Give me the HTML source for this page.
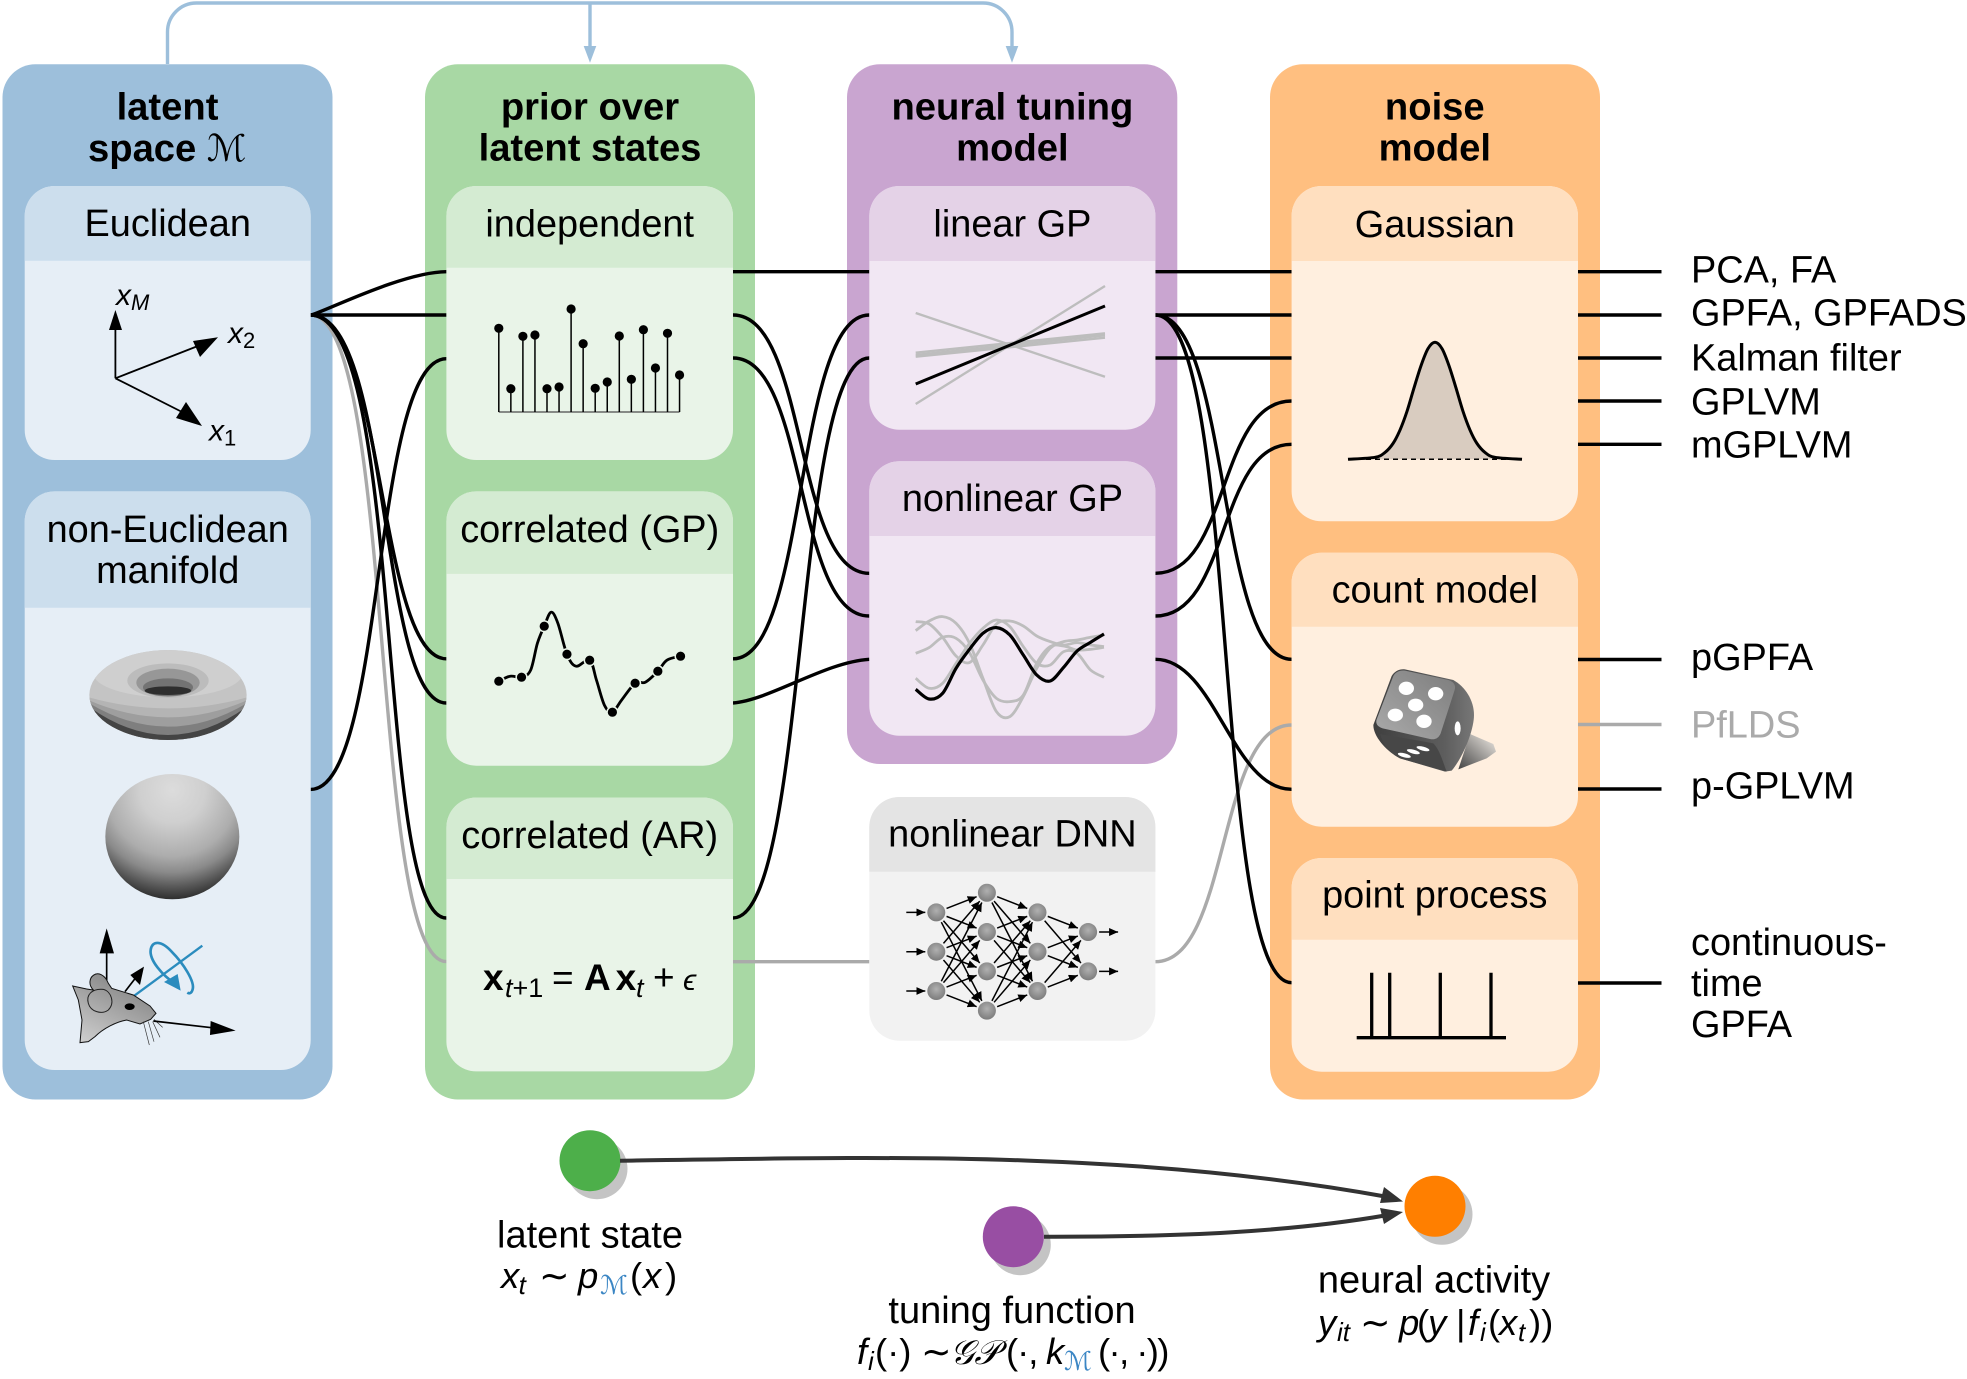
<!DOCTYPE html>
<html lang="en">
<head>
<meta charset="utf-8">
<title>Latent variable model components</title>
<style>
html,body{margin:0;padding:0;background:#fff;width:1967px;height:1379px;overflow:hidden}
svg{display:block}
text{font-family:"Liberation Sans","DejaVu Sans",sans-serif;fill:#000}
.h{font-size:37.9px;text-anchor:middle}
.b{font-size:38.2px;font-weight:bold;text-anchor:middle}
.r{font-size:37.9px}
.m{font-size:36.5px}
.i{font-style:italic}
.s{font-size:26px;font-style:italic}
.lk{fill:none;stroke:#000;stroke-width:3.4}
.lg{fill:none;stroke:#aaa;stroke-width:3.4}
.t{fill:none;stroke:#9dbfdb;stroke-width:3.4}
</style>
</head>
<body>
<svg id="fig" xmlns="http://www.w3.org/2000/svg" width="1967" height="1379" viewBox="0 0 1967 1379">
<defs>
<marker id="nnArrow" markerUnits="userSpaceOnUse" markerWidth="10" markerHeight="8" refX="9" refY="4" orient="auto"><path d="M0,0 L9,4 L0,8 Z" fill="#000"/></marker>
<radialGradient id="nodeGrad" cx="50%" cy="40%" r="60%"><stop offset="0" stop-color="#b0b0b0"/><stop offset="1" stop-color="#7c7c7c"/></radialGradient>
<radialGradient id="sphereGrad" gradientUnits="userSpaceOnUse" cx="277" cy="450" r="330"><stop offset="0" stop-color="#dcdcdc"/><stop offset=".3" stop-color="#cfcfcf"/><stop offset=".6" stop-color="#adadad"/><stop offset=".75" stop-color="#8a8a8a"/><stop offset=".88" stop-color="#585858"/><stop offset="1" stop-color="#2c2c2c"/></radialGradient>
<linearGradient id="mouseGrad" x1="0.7" y1="0" x2="0.1" y2="1"><stop offset="0" stop-color="#808080"/><stop offset="1" stop-color="#cfcfcf"/></linearGradient>
<linearGradient id="diceFace" x1="0" y1="1" x2="1" y2="0"><stop offset="0" stop-color="#aaa"/><stop offset="1" stop-color="#7d7d7d"/></linearGradient>
<linearGradient id="diceSide" x1="0" y1="0" x2="1" y2="0"><stop offset="0" stop-color="#3f3f3f"/><stop offset=".7" stop-color="#5d5d5d"/><stop offset="1" stop-color="#777"/></linearGradient>
<linearGradient id="diceShadow" x1="0" y1="1" x2="1" y2="0"><stop offset="0" stop-color="#444"/><stop offset="1" stop-color="#f3eee8"/></linearGradient>
<clipPath id="torusClip"><ellipse cx="264" cy="165" rx="236" ry="135"/></clipPath>
</defs>

<!-- top feedback connector -->
<path class="t" d="M167.5,64 V32 A29,29 0 0 1 196.5,3 H983 A29,29 0 0 1 1012,32 V50"/>
<path class="t" d="M590,3 V50"/>
<polygon points="583.7,46 596.3,46 590,62.7" fill="#9dbfdb"/>
<polygon points="1005.7,46 1018.3,46 1012,62.7" fill="#9dbfdb"/>

<!-- column panels -->
<rect x="2.5" y="64.3" width="330" height="1035.2" rx="33" fill="#9dbfdb"/>
<rect x="425" y="64.3" width="330" height="1035.2" rx="33" fill="#a8d8a4"/>
<rect x="847" y="64.3" width="330.3" height="699.7" rx="33" fill="#c9a5d0"/>
<rect x="1270" y="64.3" width="330" height="1035.2" rx="33" fill="#ffbf80"/>

<!-- column titles -->
<text class="b" x="167.5" y="119.5">latent</text>
<text class="b" x="88" y="161" style="text-anchor:start">space <tspan font-family="'DejaVu Serif','DejaVu Sans',serif" font-weight="normal" font-style="italic" font-size="37">ℳ</tspan></text>
<text class="b" x="590" y="119.3">prior over</text>
<text class="b" x="590" y="160.7">latent states</text>
<text class="b" x="1012.4" y="119.3">neural tuning</text>
<text class="b" x="1012.4" y="160.7">model</text>
<text class="b" x="1434.8" y="119.3">noise</text>
<text class="b" x="1434.8" y="160.7">model</text>

<!-- connections -->
<g>
<path class="lg" d="M310.7,315 C395,315 370,961.6 446.4,961.6"/>
<path class="lg" d="M733,961.7 H869.3"/>
<path class="lg" d="M1155.4,961.7 C1230,961.7 1217,725 1291.6,725"/>
<path class="lk" d="M310.7,315 C322,313 402,272 446.4,271.7"/>
<path class="lk" d="M310.7,315 H446.4"/>
<path class="lk" d="M310.7,315 C385,315 378,658.8 446.4,658.8"/>
<path class="lk" d="M310.7,315 C392,315 378,703 446.4,703"/>
<path class="lk" d="M310.7,315 C405,315 375,918 446.4,918"/>
<path class="lk" d="M310.7,789.4 C385.7,789.4 371.4,358.7 446.4,358.7"/>
<path class="lk" d="M733,271.7 H869.3"/>
<path class="lk" d="M733,315 C808,315 794,573.3 869.3,573.3"/>
<path class="lk" d="M733,358 C808,358 794,616 869.3,616"/>
<path class="lk" d="M733,658.8 C808,658.8 794,315 869.3,315"/>
<path class="lk" d="M733,918 C808,918 794,358 869.3,358"/>
<path class="lk" d="M733,703 C770,700 825,662 869.3,659.3"/>
<path class="lk" d="M1155.4,271.7 H1291.6"/>
<path class="lk" d="M1155.4,315 H1291.6"/>
<path class="lk" d="M1155.4,358 H1291.6"/>
<path class="lk" d="M1155.4,315 C1230,315 1217,659.3 1291.6,659.3"/>
<path class="lk" d="M1155.4,315 C1240,315 1212,982.7 1291.6,982.7"/>
<path class="lk" d="M1155.4,573.3 C1230,573.3 1217,401 1291.6,401"/>
<path class="lk" d="M1155.4,616 C1230,616 1217,444.3 1291.6,444.3"/>
<path class="lk" d="M1155.4,659.3 C1215,659.3 1232,789.3 1291.6,789.3"/>
<path class="lk" d="M1578,271.7 H1661.5"/>
<path class="lk" d="M1578,315 H1661.5"/>
<path class="lk" d="M1578,358 H1661.5"/>
<path class="lk" d="M1578,401 H1661.5"/>
<path class="lk" d="M1578,444.3 H1661.5"/>
<path class="lk" d="M1578,659.5 H1661.5"/>
<path class="lg" d="M1578,724.5 H1661.5"/>
<path class="lk" d="M1578,789 H1661.5"/>
<path class="lk" d="M1578,983 H1661.5"/>
</g>

<!-- cards -->
<g>
<rect x="24.7" y="186" width="286" height="274" rx="30" fill="#e6eef6"/>
<path d="M24.7,260.7 V216 A30,30 0 0 1 54.7,186 H280.7 A30,30 0 0 1 310.7,216 V260.7 Z" fill="#ccdeed"/>
<text class="h" x="167.7" y="236">Euclidean</text>
</g>
<g>
<rect x="24.7" y="491.4" width="286" height="578.6" rx="30" fill="#e6eef6"/>
<path d="M24.7,607.8 V521.4 A30,30 0 0 1 54.7,491.4 H280.7 A30,30 0 0 1 310.7,521.4 V607.8 Z" fill="#ccdeed"/>
<text class="h" x="167.7" y="542">non-Euclidean</text>
<text class="h" x="167.7" y="583">manifold</text>
</g>
<g>
<rect x="446.4" y="186" width="286.6" height="274" rx="30" fill="#e9f4e8"/>
<path d="M446.4,267.7 V216 A30,30 0 0 1 476.4,186 H703 A30,30 0 0 1 733,216 V267.7 Z" fill="#d4ebd2"/>
<text class="h" x="589.7" y="236.7">independent</text>
</g>
<g>
<rect x="446.4" y="491.4" width="286.6" height="274.3" rx="30" fill="#e9f4e8"/>
<path d="M446.4,573.9 V521.4 A30,30 0 0 1 476.4,491.4 H703 A30,30 0 0 1 733,521.4 V573.9 Z" fill="#d4ebd2"/>
<text class="h" x="589.7" y="542">correlated (GP)</text>
</g>
<g>
<rect x="446.4" y="797.5" width="286.6" height="273.9" rx="30" fill="#e9f4e8"/>
<path d="M446.4,879 V827.5 A30,30 0 0 1 476.4,797.5 H703 A30,30 0 0 1 733,827.5 V879 Z" fill="#d4ebd2"/>
<text class="h" x="589.7" y="848">correlated (AR)</text>
</g>
<g>
<rect x="869.3" y="186" width="286.1" height="243.7" rx="30" fill="#f1e7f3"/>
<path d="M869.3,261 V216 A30,30 0 0 1 899.3,186 H1125.4 A30,30 0 0 1 1155.4,216 V261 Z" fill="#e4d2e7"/>
<text class="h" x="1012.4" y="236.7">linear GP</text>
</g>
<g>
<rect x="869.3" y="461.3" width="286.1" height="274.4" rx="30" fill="#f1e7f3"/>
<path d="M869.3,536 V491.3 A30,30 0 0 1 899.3,461.3 H1125.4 A30,30 0 0 1 1155.4,491.3 V536 Z" fill="#e4d2e7"/>
<text class="h" x="1012.4" y="511">nonlinear GP</text>
</g>
<g>
<rect x="869.3" y="797" width="286.1" height="243.7" rx="30" fill="#f2f2f2"/>
<path d="M869.3,871.7 V827 A30,30 0 0 1 899.3,797 H1125.4 A30,30 0 0 1 1155.4,827 V871.7 Z" fill="#e4e4e4"/>
<text class="h" x="1012.4" y="846.7">nonlinear DNN</text>
</g>
<g>
<rect x="1291.6" y="186" width="286.4" height="335.3" rx="30" fill="#ffefdf"/>
<path d="M1291.6,261 V216 A30,30 0 0 1 1321.6,186 H1548 A30,30 0 0 1 1578,216 V261 Z" fill="#ffdfbf"/>
<text class="h" x="1434.8" y="237">Gaussian</text>
</g>
<g>
<rect x="1291.6" y="552.7" width="286.4" height="274" rx="30" fill="#ffefdf"/>
<path d="M1291.6,626.7 V582.7 A30,30 0 0 1 1321.6,552.7 H1548 A30,30 0 0 1 1578,582.7 V626.7 Z" fill="#ffdfbf"/>
<text class="h" x="1434.8" y="602.7">count model</text>
</g>
<g>
<rect x="1291.6" y="858" width="286.4" height="213.7" rx="30" fill="#ffefdf"/>
<path d="M1291.6,939.7 V888 A30,30 0 0 1 1321.6,858 H1548 A30,30 0 0 1 1578,888 V939.7 Z" fill="#ffdfbf"/>
<text class="h" x="1434.8" y="907.7">point process</text>
</g>

<!-- Euclidean axes -->
<g stroke="#000" stroke-width="1.8">
<line x1="115.4" y1="378.3" x2="115.4" y2="325"/>
<line x1="115.4" y1="378.3" x2="203" y2="344"/>
<line x1="115.4" y1="378.3" x2="188" y2="415"/>
<polygon stroke="none" fill="#000" points="115.4,310 109,330 122,330"/>
<polygon stroke="none" fill="#000" points="218,337.3 193,341 200,357"/>
<polygon stroke="none" fill="#000" points="202,426 186,402 176,418"/>
</g>
<text class="i" x="116" y="305" font-size="30">x<tspan font-size="22" dy="5">M</tspan></text>
<text class="i" x="228" y="343" font-size="30">x<tspan font-size="22" dy="5" font-style="normal">2</tspan></text>
<text class="i" x="209" y="440.7" font-size="30">x<tspan font-size="22" dy="5" font-style="normal">1</tspan></text>

<!-- Torus and sphere -->
<g transform="translate(80,640) scale(.3333)">
<ellipse cx="264" cy="165" rx="236" ry="135" fill="#c4c4c4"/>
<g clip-path="url(#torusClip)">
<ellipse cx="264" cy="100" rx="224" ry="72" fill="#cfcfcf"/>
<path d="M20,170 Q264,240 508,170 V310 H20 Z" fill="#b4b4b4"/>
<path d="M20,178 Q264,286 508,178 V310 H20 Z" fill="#9e9e9e"/>
<path d="M20,185 Q264,335 508,185 V310 H20 Z" fill="#7f7f7f"/>
<path d="M20,195 Q264,375 508,195 V310 H20 Z" fill="#444"/>
</g>
<ellipse cx="264" cy="122" rx="122" ry="52" fill="#bcbcbc"/>
<ellipse cx="264" cy="128" rx="95" ry="42" fill="#979797"/>
<ellipse cx="264" cy="142" rx="75" ry="27" fill="#737373"/>
<ellipse cx="264" cy="152" rx="70" ry="13" fill="#2e2e2e"/>
</g>
<g transform="translate(80,640) scale(.3333)">
<ellipse cx="277" cy="590" rx="201" ry="188" fill="url(#sphereGrad)"/>
</g>

<!-- Mouse -->
<g transform="translate(60,920) scale(.3333)">
<line x1="140" y1="185" x2="140" y2="95" stroke="#000" stroke-width="5"/>
<polygon fill="#000" points="140,25 119,100 162,100"/>
<line x1="195" y1="215" x2="228" y2="172" stroke="#000" stroke-width="5"/>
<polygon fill="#000" points="252,140 211,165 240,195"/>
<path d="M222,228 L427,77" fill="none" stroke="#2b8cbe" stroke-width="7"/>
<path d="M350,195 C305,165 268,120 272,90 C276,60 305,62 335,95 C370,130 405,185 398,208 C395,220 388,222 382,218" fill="none" stroke="#2b8cbe" stroke-width="8"/>
<polygon fill="#2b8cbe" points="362,212 312,186 353,162"/>
<path d="M38,198 L80,207 L100,210 C85,195 88,175 100,166 C115,155 135,165 145,190 L155,205 L220,225 L270,258 L288,280 L272,298 L240,312 L200,300 C170,305 130,325 105,350 L85,365 L60,368 L66,300 L55,240 Z" fill="url(#mouseGrad)" stroke="#111" stroke-width="3"/>
<path d="M130,208 C95,205 78,225 85,250 C92,275 125,285 145,270 C165,250 155,215 130,208 Z" fill="none" stroke="#222" stroke-width="3"/>
<ellipse cx="209" cy="260" rx="15" ry="10" fill="#000"/>
<path d="M250,305 L268,375 M265,305 L282,365 M278,305 L300,352 M282,298 L308,322" fill="none" stroke="#333" stroke-width="2"/>
<line x1="280" y1="303" x2="455" y2="323" stroke="#000" stroke-width="5"/>
<polygon fill="#000" points="527,332 452,303 450,345"/>
</g>

<!-- Dice -->
<g transform="translate(1350,650) scale(.3333)">
<path d="M360,252 L430,282 L438,305 L410,325 L325,358 Z" fill="url(#diceShadow)"/>
<path d="M165,58 L310,90 C345,110 372,150 372,195 C372,240 340,320 305,362 L285,365 L150,325 C110,305 70,260 70,225 L125,78 C135,62 150,56 165,58 Z" fill="url(#diceSide)"/>
<path d="M90,252 C120,258 200,270 250,280 C270,300 280,340 290,365 L150,325 C120,310 100,285 90,252 Z" fill="#474747"/>
<path d="M165,62 L295,90 C312,96 318,106 314,120 L272,250 C266,264 256,270 240,267 L98,235 C82,230 76,220 80,208 L130,78 C136,66 150,60 165,62 Z" fill="url(#diceFace)"/>
<g fill="#fff">
<ellipse cx="169" cy="115" rx="23" ry="20"/>
<ellipse cx="257" cy="131" rx="23" ry="20"/>
<ellipse cx="197" cy="165" rx="23" ry="19"/>
<ellipse cx="136" cy="195" rx="23" ry="19"/>
<ellipse cx="222" cy="214" rx="23" ry="20"/>
<ellipse cx="323" cy="235" rx="9" ry="21"/>
<ellipse cx="163" cy="316" rx="20" ry="6" transform="rotate(15 163 316)"/>
<ellipse cx="190" cy="305" rx="20" ry="6" transform="rotate(15 190 305)"/>
<ellipse cx="219" cy="296" rx="20" ry="6" transform="rotate(15 219 296)"/>
</g>
</g>

<!-- AR equation -->
<g font-size="37">
<text x="483" y="990" font-weight="bold" font-size="37">x</text>
<text x="505" y="997" font-size="27"><tspan font-style="italic">t</tspan>+1</text>
<text x="552" y="990" font-size="37">=</text>
<text x="584" y="990" font-weight="bold" font-size="37">A</text>
<text x="615.6" y="990" font-weight="bold" font-size="37">x</text>
<text x="636" y="997" font-size="27" font-style="italic">t</text>
<text x="653" y="990" font-size="37">+</text>
<text x="683" y="990" font-size="30" font-style="italic">ϵ</text>
</g>

<!-- JS-drawn plots -->
<g id="stemPlot"></g>
<g id="gpPlot"></g>
<g id="linearPlot"></g>
<g id="nonlinearPlot"></g>
<g id="nnPlot"></g>
<g id="gaussPlot"></g>
<g id="spikePlot"></g>

<!-- Method labels -->
<text class="r" x="1691" y="282.7">PCA, FA</text>
<text class="r" x="1691" y="325.7">GPFA, GPFADS</text>
<text class="r" x="1691" y="370.7">Kalman filter</text>
<text class="r" x="1691" y="414.5">GPLVM</text>
<text class="r" x="1691" y="457.7">mGPLVM</text>
<text class="r" x="1691" y="670">pGPFA</text>
<text class="r" x="1691" y="737.7" style="fill:#aaa">PfLDS</text>
<text class="r" x="1691" y="798.3">p-GPLVM</text>
<text class="r" x="1691" y="955">continuous-</text>
<text class="r" x="1691" y="996">time</text>
<text class="r" x="1691" y="1037">GPFA</text>

<!-- Generative graph -->
<ellipse cx="597" cy="1168.7" rx="30.5" ry="30.5" fill="#c4c4c4"/>
<ellipse cx="1020.3" cy="1244.7" rx="30.5" ry="30.5" fill="#c4c4c4"/>
<ellipse cx="1442" cy="1214.3" rx="30.5" ry="30.5" fill="#c4c4c4"/>
<circle cx="590" cy="1160.7" r="30.5" fill="#4daf4a"/>
<circle cx="1013.3" cy="1236.7" r="30.5" fill="#984ea3"/>
<circle cx="1435" cy="1206.3" r="30.5" fill="#ff7f00"/>
<path d="M620,1160.7 C880,1157 1130,1150 1388,1197" fill="none" stroke="#333" stroke-width="4"/>
<polygon points="1403,1201.5 1384,1187 1380,1203" fill="#333"/>
<path d="M1044,1236.7 C1180,1237 1290,1232 1388,1215" fill="none" stroke="#333" stroke-width="4"/>
<polygon points="1403,1212 1380,1208 1384,1224" fill="#333"/>

<text class="h" x="590" y="1247.3" style="font-size:38px">latent state</text>
<g>
<text class="m i" x="501" y="1288">x</text><text class="s" x="518.6" y="1294">t</text>
<text class="m" x="539" y="1288">∼</text>
<text class="m i" x="578" y="1288">p</text>
<text x="600" y="1294" font-size="26" font-style="italic" style="fill:#3b86c4;font-family:'DejaVu Serif','DejaVu Sans',serif">ℳ</text>
<text class="m" x="630" y="1288">(</text><text class="m i" x="643" y="1288">x</text><text class="m" x="665" y="1288">)</text>
</g>
<text class="h" x="1012" y="1323" style="font-size:38px">tuning function</text>
<g>
<text class="m i" x="857" y="1364">f</text><text class="s" x="868" y="1370">i</text>
<text class="m" x="875" y="1364">(·)</text>
<text class="m" x="921" y="1364">∼</text>
<text x="950" y="1364" font-size="34" font-style="italic" style="font-family:'Liberation Serif',serif">𝒢𝒫</text>
<text class="m" x="1006" y="1364" style="letter-spacing:-1px">(·,</text>
<text class="m i" x="1046" y="1364">k</text>
<text x="1064" y="1370" font-size="26" font-style="italic" style="fill:#3b86c4;font-family:'DejaVu Serif','DejaVu Sans',serif">ℳ</text>
<text class="m" x="1098" y="1364" style="letter-spacing:-1.6px">(·, ·))</text>
</g>
<text class="h" x="1434" y="1292.7" style="font-size:38px">neural activity</text>
<g>
<text class="m i" x="1318" y="1335">y</text><text class="s" x="1337" y="1341">it</text>
<text class="m" x="1360" y="1335">∼</text>
<text class="m i" x="1399" y="1335">p</text>
<text class="m" x="1417" y="1335">(</text>
<text class="m i" x="1428" y="1335">y</text>
<text class="m" x="1456" y="1335">|</text>
<text class="m i" x="1468" y="1335">f</text><text class="s" x="1480" y="1341">i</text>
<text class="m" x="1488" y="1335">(</text>
<text class="m i" x="1499" y="1335">x</text><text class="s" x="1518" y="1341">t</text>
<text class="m" x="1529" y="1335">))</text>
</g>
</svg>

<script>
const stemValues = [83.7, 23.3, 75.7, 77, 23.3, 25, 103, 68.3, 23.7, 30, 76, 32.7, 82.3, 44, 78.7, 37];
const gpPointTimes = [0, 2, 4, 6, 8, 10, 12, 14, 16];
const gpPointValues = [31, 35, 86, 58, 52, 0, 29, 41, 56];
const gpCurveTimes = [0, 1, 2, 2.8, 3.4, 4, 4.6, 5.2, 6, 6.8, 8, 8.6, 9.3, 10, 10.8, 12, 12.9, 14, 14.8, 16];
const gpCurveValues = [31, 36, 35, 42, 69, 86, 100, 89, 58, 46, 52, 32, 7, 0, 12, 29, 30, 41, 52, 56];
const linearStart = [-41, -61, 30, -9.7, -12, -13.7];
const linearEnd = [37, 57, -33.7, 9.7, 7.7, 5.3];
const linearIsHighlighted = [true, false, false, false, false, false];
const nonlinearHighlight = [34, 24.3, 30, 55, 74, 90, 95.7, 88.3, 68.3, 48.3, 42.3, 56, 72.3, 81, 89.3];
const nonlinearGrayA = [92.7, 102.3, 106.7, 100, 80, 45, 11.7, 6.7, 26.7, 55, 75, 81.7, 83.3, 86, 88.3];
const nonlinearGrayB = [101.7, 99.3, 86, 67.3, 60.7, 78.3, 99.3, 102.3, 97.3, 87.3, 81.7, 78.3, 80.7, 78.3, 76.7];
const nonlinearGrayC = [70, 75.7, 86, 85, 70.7, 43.3, 25, 21.7, 28.3, 60, 76.7, 77.3, 73.3, 74, 76];
const nonlinearGrayD = [45, 35, 40, 60, 80, 95, 103.3, 96.7, 76.7, 60, 58.3, 71.7, 70, 53.3, 46];
const networkLayerSizes = [3, 4, 3, 2];
const gaussianOffsets = [-87, -60, -50, -42, -35, -28, -21, -14, -7, 0, 7, 14, 21, 28, 35, 42, 50, 60, 87];
const gaussianDensity = [0, 0.017, 0.059, 0.135, 0.25, 0.41, 0.61, 0.8, 0.946, 1, 0.946, 0.8, 0.61, 0.41, 0.25, 0.135, 0.059, 0.017, 0];
const spikeTimes = [15, 33, 83.6, 134.3];

const NS = 'http://www.w3.org/2000/svg';
function make(parent, tag, props) {
  const node = document.createElementNS(NS, tag);
  for (const k in props) node.setAttribute(k, props[k]);
  parent.appendChild(node);
  return node;
}
function smoothPath(pts) {
  let d = 'M' + pts[0][0] + ',' + pts[0][1];
  for (let i = 0; i < pts.length - 1; i++) {
    const p0 = pts[Math.max(i - 1, 0)], p1 = pts[i], p2 = pts[i + 1], p3 = pts[Math.min(i + 2, pts.length - 1)];
    const c1x = p1[0] + (p2[0] - p0[0]) / 6, c1y = p1[1] + (p2[1] - p0[1]) / 6;
    const c2x = p2[0] - (p3[0] - p1[0]) / 6, c2y = p2[1] - (p3[1] - p1[1]) / 6;
    d += ' C' + c1x.toFixed(2) + ',' + c1y.toFixed(2) + ' ' + c2x.toFixed(2) + ',' + c2y.toFixed(2) + ' ' + p2[0].toFixed(2) + ',' + p2[1].toFixed(2);
  }
  return d;
}

/* independent stems */
const stemX = i => 498.8 + i * 12.05;
const stemY = v => 412 - v;
const stemGroup = document.getElementById('stemPlot');
const stemBase = make(stemGroup, 'line', {x1: stemX(0), x2: stemX(stemValues.length - 1), y1: stemY(0), y2: stemY(0), stroke: '#666', 'stroke-width': 1.6});


stemValues.forEach((v, i) => {
  const stem = make(stemGroup, 'line', {x1: stemX(i), x2: stemX(i), y1: stemY(0), y2: stemY(v), stroke: '#000', 'stroke-width': 1.5});
  
  
  const dot = make(stemGroup, 'circle', {cx: stemX(i), cy: stemY(v), r: 4.6, fill: '#000'});
  
  
});

/* correlated GP */
const gpX = t => 498.8 + t * 11.36;
const gpY = v => 712.2 - v;
const gpGroup = document.getElementById('gpPlot');
const gpLine = make(gpGroup, 'path', {d: smoothPath(gpCurveTimes.map((t, i) => [gpX(t), gpY(gpCurveValues[i])])), fill: 'none', stroke: '#000', 'stroke-width': 2.8});


gpPointTimes.forEach((t, i) => {
  const pt = make(gpGroup, 'circle', {cx: gpX(t), cy: gpY(gpPointValues[i]), r: 4.6, fill: '#000', stroke: '#e9f4e8', 'stroke-width': 3, 'paint-order': 'stroke'});
  
  
});

/* linear GP */
const linX0 = 915.7, linX1 = 1105;
const linY = v => 343 - v;
const linearGroup = document.getElementById('linearPlot');
linearStart.map((s, i) => i).sort((a, b) => linearIsHighlighted[a] - linearIsHighlighted[b]).forEach(i => {
  const hi = linearIsHighlighted[i];
  const ln = make(linearGroup, 'line', {x1: linX0, x2: linX1, y1: linY(linearStart[i]), y2: linY(linearEnd[i]), stroke: hi ? '#000' : '#bdbdbd', 'stroke-width': hi ? 3 : 2.4});
  
  
});

/* nonlinear GP */
const nlX = i => 915.7 + i * 13.45;
const nlY = v => 723.3 - v;
const nonlinearGroup = document.getElementById('nonlinearPlot');
[nonlinearGrayA, nonlinearGrayB, nonlinearGrayC, nonlinearGrayD].forEach(series => {
  const curve = make(nonlinearGroup, 'path', {d: smoothPath(series.map((v, i) => [nlX(i), nlY(v)])), fill: 'none', stroke: '#bdbdbd', 'stroke-width': 2.8});
  
  
});
const nlMain = make(nonlinearGroup, 'path', {d: smoothPath(nonlinearHighlight.map((v, i) => [nlX(i), nlY(v)])), fill: 'none', stroke: '#000', 'stroke-width': 3.2});



/* neural network */
const nnX = layer => 936.3 + layer * 50.6;
const nnY = (i, n) => 951.7 + (i - (n - 1) / 2) * 39.3;
const nnGroup = document.getElementById('nnPlot');
function nnArrow(x1, y1, x2, y2, w) {
  const a = make(nnGroup, 'line', {x1: x1, y1: y1, x2: x2, y2: y2, stroke: '#000', 'stroke-width': w, 'marker-end': 'url(#nnArrow)'});
  
  
}
networkLayerSizes.forEach((n, l) => {
  if (l + 1 < networkLayerSizes.length) {
    const m = networkLayerSizes[l + 1];
    for (let i = 0; i < n; i++) for (let j = 0; j < m; j++) {
      const x1 = nnX(l), y1 = nnY(i, n), x2 = nnX(l + 1), y2 = nnY(j, m);
      const d = Math.hypot(x2 - x1, y2 - y1), ux = (x2 - x1) / d, uy = (y2 - y1) / d;
      nnArrow(x1 + ux * 11, y1 + uy * 11, x2 - ux * 11, y2 - uy * 11, 1.5);
    }
  }
});
for (let i = 0; i < networkLayerSizes[0]; i++) {
  const y = nnY(i, networkLayerSizes[0]);
  nnArrow(nnX(0) - 30, y, nnX(0) - 11, y, 1.5);
}
const lastLayer = networkLayerSizes.length - 1;
for (let i = 0; i < networkLayerSizes[lastLayer]; i++) {
  const y = nnY(i, networkLayerSizes[lastLayer]);
  nnArrow(nnX(lastLayer) + 11, y, nnX(lastLayer) + 30, y, 1.5);
}
networkLayerSizes.forEach((n, l) => {
  for (let i = 0; i < n; i++) {
    const node = make(nnGroup, 'circle', {cx: nnX(l), cy: nnY(i, n), r: 9, fill: 'url(#nodeGrad)'});
    
    
  }
});

/* gaussian */
const gX = o => 1435 + o;
const gY = d => 459.3 - d * 117;
const gaussGroup = document.getElementById('gaussPlot');
const gPts = gaussianOffsets.map((o, i) => [gX(o), gY(gaussianDensity[i])]);
const gFill = make(gaussGroup, 'path', {d: smoothPath(gPts) + ' Z', fill: '#d9ccc0'});


const gBase = make(gaussGroup, 'line', {x1: gX(-87), x2: gX(87), y1: gY(0), y2: gY(0), stroke: '#000', 'stroke-width': 1.5, 'stroke-dasharray': '5 4'});


const gLine = make(gaussGroup, 'path', {d: smoothPath(gPts), fill: 'none', stroke: '#000', 'stroke-width': 3});



/* spikes */
const spX = t => 1356.7 + t;
const spikeGroup = document.getElementById('spikePlot');
const spBase = make(spikeGroup, 'line', {x1: 1356.7, x2: 1506, y1: 1037.7, y2: 1037.7, stroke: '#000', 'stroke-width': 3.4});


spikeTimes.forEach(t => {
  const sp = make(spikeGroup, 'line', {x1: spX(t), x2: spX(t), y1: 972.7, y2: 1037.7, stroke: '#000', 'stroke-width': 3.3});
  
  
});
</script>
</body>
</html>
